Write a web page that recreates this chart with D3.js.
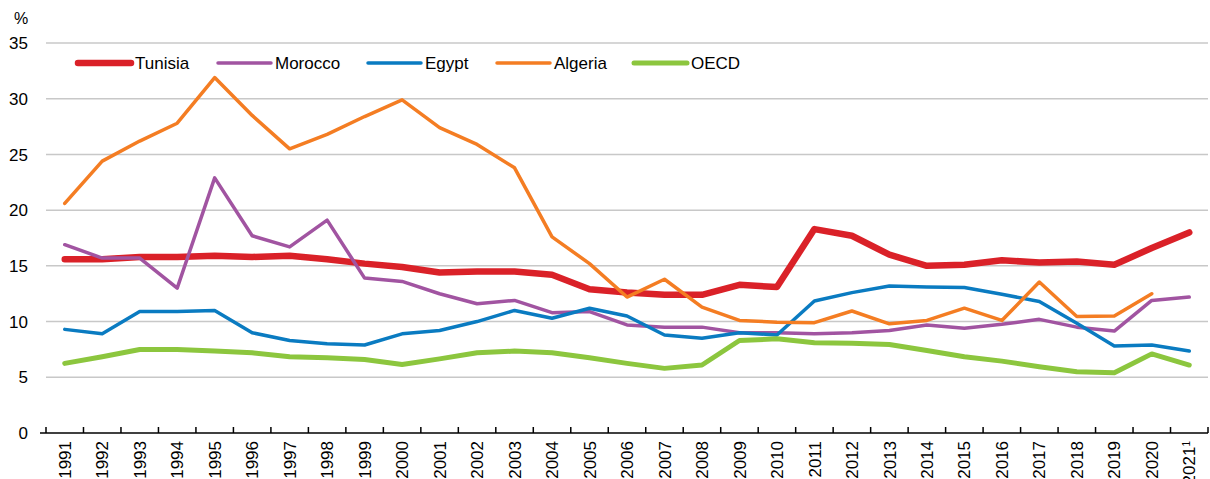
<!DOCTYPE html>
<html>
<head>
<meta charset="utf-8">
<script src="https://cdn.jsdelivr.net/npm/d3@7"></script>
<style>
	body { margin: 0; background: #fff; }
	text { font-family: "Liberation Sans", Arial, sans-serif; fill: #000; }
</style>
</head>
<body>
<script>
var years = ['1991','1992','1993','1994','1995','1996','1997','1998','1999','2000',
	'2001','2002','2003','2004','2005','2006','2007','2008','2009','2010',
	'2011','2012','2013','2014','2015','2016','2017','2018','2019','2020','2021'];

var tunisia = [15.6,15.6,15.8,15.8,15.9,15.8,15.9,15.6,15.2,14.9,
	14.4,14.5,14.5,14.2,12.9,12.6,12.4,12.4,13.3,13.1,
	18.3,17.7,16.0,15.0,15.1,15.5,15.3,15.4,15.1,16.6,18.0];
var morocco = [16.9,15.7,15.7,13.0,22.9,17.7,16.7,19.1,13.9,13.6,
	12.5,11.6,11.9,10.8,10.9,9.7,9.5,9.5,9.0,9.0,
	8.9,9.0,9.2,9.7,9.4,9.75,10.2,9.5,9.15,11.9,12.2];
var egypt = [9.3,8.9,10.9,10.9,11.0,9.0,8.3,8.0,7.9,8.9,
	9.2,10.0,11.0,10.3,11.2,10.5,8.8,8.5,9.0,8.8,
	11.85,12.6,13.2,13.1,13.05,12.45,11.8,9.85,7.8,7.9,7.35];
var algeria = [20.6,24.4,26.2,27.8,31.9,28.5,25.5,26.8,28.4,29.9,
	27.4,25.9,23.8,17.6,15.2,12.2,13.8,11.3,10.1,9.95,
	9.9,10.95,9.8,10.1,11.2,10.1,13.55,10.45,10.5,12.5,null];
var oecd = [6.25,6.85,7.5,7.5,7.35,7.2,6.85,6.75,6.6,6.15,
	6.65,7.2,7.35,7.2,6.75,6.25,5.8,6.1,8.3,8.45,
	8.1,8.05,7.95,7.4,6.85,6.45,5.95,5.5,5.4,7.1,6.1];

var yTicks = [0,5,10,15,20,25,30,35];

var series = [
	{name: 'Tunisia', values: tunisia, color: '#da2128', width: 6.5},
	{name: 'Morocco', values: morocco, color: '#a154a1', width: 3.5},
	{name: 'Egypt',   values: egypt,   color: '#0a7bc1', width: 3.5},
	{name: 'Algeria', values: algeria, color: '#f47d23', width: 3.5},
	{name: 'OECD',    values: oecd,    color: '#8cc63e', width: 5}
];

var w = 1210, h = 479;
var mLeft = 46, mRight = 1208, mTop = 43, mBottom = 433;

var svg = d3.select('body').append('svg')
	.attr('width', w)
	.attr('height', h);

var x = d3.scaleBand().domain(years).range([mLeft, mRight]).padding(0);
var y = d3.scaleLinear().domain([0, 35]).range([mBottom, mTop]);

// gridlines
svg.append('g')
	.selectAll('line')
	.data(yTicks.filter(function(d){ return d > 0; }))
	.enter()
	.append('line')
	.attr('x1', mLeft)
	.attr('x2', mRight)
	.attr('y1', function(d){ return y(d); })
	.attr('y2', function(d){ return y(d); })
	.attr('stroke', '#c8c8c8')
	.attr('stroke-width', 1.5);

// y labels
svg.append('g')
	.selectAll('text')
	.data(yTicks)
	.enter()
	.append('text')
	.attr('x', 28)
	.attr('y', function(d){ return y(d); })
	.attr('dy', '0.36em')
	.attr('text-anchor', 'end')
	.style('font-size', '17px')
	.text(function(d){ return d; });

svg.append('text')
	.attr('x', 14)
	.attr('y', 24)
	.style('font-size', '16px')
	.text('%');

// x axis
var xg = svg.append('g');
xg.append('line')
	.attr('x1', mLeft - 6)
	.attr('x2', mRight)
	.attr('y1', mBottom)
	.attr('y2', mBottom)
	.attr('stroke', '#000')
	.attr('stroke-width', 1.5);

var tickPos = years.map(function(d){ return x(d); }).concat([mRight]);
xg.selectAll('line.tick')
	.data(tickPos)
	.enter()
	.append('line')
	.attr('class', 'tick')
	.attr('x1', function(d){ return d; })
	.attr('x2', function(d){ return d; })
	.attr('y1', mBottom)
	.attr('y2', mBottom - 6)
	.attr('stroke', '#000')
	.attr('stroke-width', 1.5);

var labels = xg.selectAll('text')
	.data(years)
	.enter()
	.append('text')
	.attr('transform', function(d){
		return 'translate(' + (x(d) + x.bandwidth()/2) + ',' + (mBottom + 8) + ') rotate(-90)';
	})
	.attr('dy', '0.36em')
	.attr('text-anchor', 'end')
	.style('font-size', '17px');
labels.append('tspan').text(function(d){ return d; });
labels.filter(function(d){ return d == '2021'; })
	.append('tspan')
	.attr('dy', '-0.5em')
	.style('font-size', '10px')
	.text('1');

// lines
var line = d3.line()
	.defined(function(d){ return d != null; })
	.x(function(d, i){ return x(years[i]) + x.bandwidth()/2; })
	.y(function(d){ return y(d); });

svg.append('g')
	.selectAll('path')
	.data(series)
	.enter()
	.append('path')
	.attr('d', function(s){ return line(s.values); })
	.attr('fill', 'none')
	.attr('stroke', function(s){ return s.color; })
	.attr('stroke-width', function(s){ return s.width; })
	.attr('stroke-linejoin', 'round')
	.attr('stroke-linecap', 'round');

// legend
var legendX = [78, 218, 368, 497, 634];
var lg = svg.append('g')
	.selectAll('g')
	.data(series)
	.enter()
	.append('g')
	.attr('transform', function(s, i){ return 'translate(' + legendX[i] + ',63)'; });

lg.append('line')
	.attr('x1', 0)
	.attr('x2', 53)
	.attr('stroke', function(s){ return s.color; })
	.attr('stroke-width', function(s){ return s.width; })
	.attr('stroke-linecap', 'round');

lg.append('text')
	.attr('x', 57)
	.attr('dy', '0.36em')
	.style('font-size', '17px')
	.text(function(s){ return s.name; });
</script>
</body>
</html>
